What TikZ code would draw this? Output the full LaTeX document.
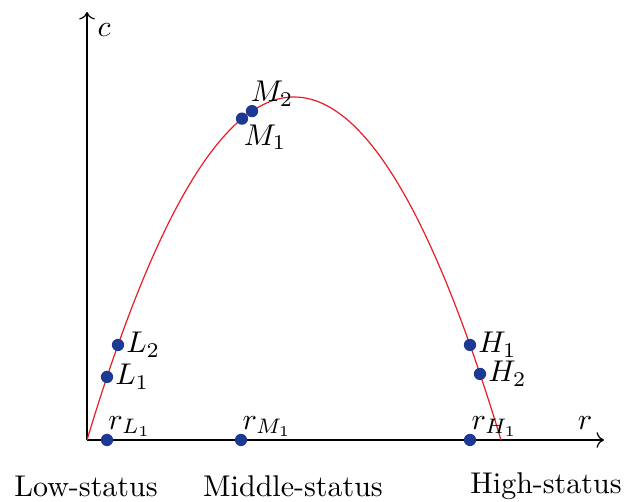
\documentclass[tikz,border=0pt]{standalone}
\usetikzlibrary{arrows.meta, positioning, calc}
\definecolor{dotblue}{RGB}{28,58,148}
\definecolor{curvered}{RGB}{232,28,36}
\tikzset{
    axis/.style={->, line width=0.4pt},
    curve/.style={draw=curvered, line width=0.4pt},
    agent/.style={circle, fill=dotblue, inner sep=0pt, minimum size=4.1pt},
    lab/.style={inner sep=0.3pt},
    status/.style={inner sep=0pt}
}

\begin{document}
\begin{tikzpicture}[x=0.3333pt, y=0.3333pt]

    \useasboundingbox (-87,-62) rectangle (545,440);

    % axes
    \coordinate (O) at (0,0);
    \coordinate (xend) at (517,0);
    \coordinate (yend) at (0,428);
    \draw[axis] (O) -- (xend);
    \draw[axis] (O) -- (yend);
    \node[lab] (clab) at (17,410) {$c$};
    \node[lab] (rlab) at (498,17) {$r$};

    % payoff curve
    \draw[curve] plot[domain=0:414, samples=120, smooth] (\x, {343*(\x/207)*(2-\x/207)});

    % agents on the curve
    \node[agent] (L1) at (20, {343*(20/207)*(2-20/207)}) {};
    \node[agent] (L2) at (31, {343*(31/207)*(2-31/207)}) {};
    \node[agent] (M1) at (155, {343*(155/207)*(2-155/207)}) {};
    \node[agent] (M2) at (165, {343*(165/207)*(2-165/207)}) {};
    \node[agent] (H1) at (383, {343*(383/207)*(2-383/207)}) {};
    \node[agent] (H2) at (393, {343*(393/207)*(2-393/207)}) {};

    \node[lab, right=0pt of L1] (L1lab) {$L_1$};
    \node[lab, right=0pt of L2] (L2lab) {$L_2$};
    \node[lab, anchor=south west, xshift=-2.5pt, yshift=-0.5pt] (M2lab) at (M2.north east) {$M_2$};
    \node[lab, anchor=north west, xshift=-1.5pt] (M1lab) at (M1.south east) {$M_1$};
    \node[lab, right=0pt of H1] (H1lab) {$H_1$};
    \node[lab, right=0pt of H2] (H2lab) {$H_2$};

    % thresholds on the r axis
    \node[agent] (rL1) at (20,0) {};
    \node[agent] (rM1) at (154,0) {};
    \node[agent] (rH1) at (383,0) {};
    \node[lab, anchor=south west, yshift=0.6pt] (rL1lab) at (rL1.center) {$r_{L_1}$};
    \node[lab, anchor=south west, yshift=0.6pt] (rM1lab) at (rM1.center) {$r_{M_1}$};
    \node[lab, anchor=south west, yshift=0.6pt] (rH1lab) at (rH1.center) {$r_{H_1}$};

    % groups
    \node[status] (lowlab) at (-1,-46) {Low-status};
    \node[status] (midlab) at (206,-46) {Middle-status};
    \node[status] (highlab) at (459,-46) {High-status};

\end{tikzpicture}
\end{document}
